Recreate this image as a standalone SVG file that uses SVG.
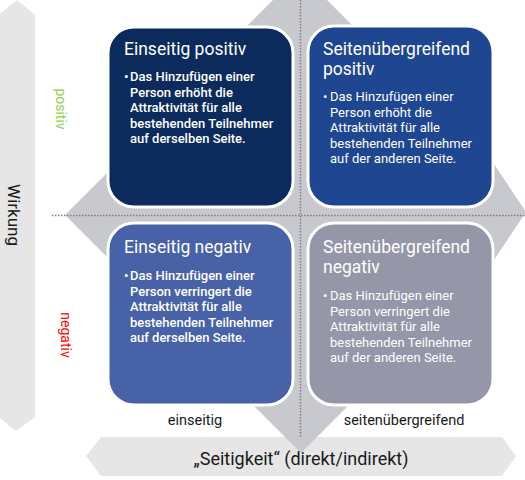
<svg xmlns="http://www.w3.org/2000/svg" width="525" height="480" viewBox="0 0 525 480">
<style>
.bar{fill:#e6e6e6}
.quad{fill:#c8c9ce}
.dot{stroke:#808080;stroke-width:1.5;stroke-dasharray:1.5 1.5;fill:none}
.box{stroke:#ffffff;stroke-width:3}
.title{font-family:Roboto,"Liberation Sans",sans-serif;font-size:17.5px;fill:#ffffff}
.body{font-family:Roboto,"Liberation Sans",sans-serif;font-size:13px;fill:#ffffff}
.b1{font-weight:500}
.lbl{font-family:Roboto,"Liberation Sans",sans-serif;font-size:14.5px;fill:#1a1a1a}
.axis{font-family:Roboto,"Liberation Sans",sans-serif;fill:#1a1a1a}
.side{font-family:Roboto,"Liberation Sans",sans-serif;font-size:14px}
</style>
<rect width="525" height="480" fill="#ffffff"/>
<g id="axis-wirkung">
<polygon class="bar" points="0,14 17,0 35,15 35,417 16,431 0,418"/>
<text class="axis" style="font-size:17px" transform="translate(8,215) rotate(90)" text-anchor="middle">Wirkung</text>
</g>
<g id="axis-seitigkeit">
<polygon class="bar" points="86,456 101,437 502,437 516,456 502,476 101,476"/>
<text class="axis" style="font-size:18px" x="301" y="465" text-anchor="middle">„Seitigkeit“ (direkt/indirekt)</text>
</g>
<g id="quad-arrow">
<polygon class="quad" points="300,-27 360,33 360,128 470,128 526,212 470,296 360,296 360,394 301,453 242,394 242,275 125,275 65,215 125,155 240,155 240,33"/>
</g>
<g id="connectors">
<line class="dot" x1="300.5" y1="0" x2="300.5" y2="437"/>
<line class="dot" x1="52" y1="215.5" x2="525" y2="215.5"/>
</g>
<g id="labels">
<text class="side" fill="#92d050" transform="translate(56,109) rotate(90)" text-anchor="middle">positiv</text>
<text class="side" fill="#ff0000" transform="translate(61,335) rotate(90)" text-anchor="middle">negativ</text>
<text class="lbl" x="195" y="425" text-anchor="middle">einseitig</text>
<text class="lbl" x="404" y="425" text-anchor="middle">seitenübergreifend</text>
</g>
<g id="box-einseitig-positiv">
<rect class="box" x="108" y="27" width="185" height="180" rx="26" fill="#0b2b5c"/>
<text class="title" x="124" y="55">Einseitig positiv</text>
<text class="body b1"><tspan x="124" y="81">•</tspan><tspan x="130" y="81">Das Hinzufügen einer</tspan><tspan x="130" y="96.5">Person erhöht die</tspan><tspan x="130" y="112">Attraktivität für alle</tspan><tspan x="130" y="127.5">bestehenden Teilnehmer</tspan><tspan x="130" y="143">auf derselben Seite.</tspan></text>
</g>
<g id="box-seitenuebergreifend-positiv">
<rect class="box" x="308" y="26" width="185" height="181" rx="26" fill="#1f4690"/>
<text class="title"><tspan x="323" y="55">Seitenübergreifend</tspan><tspan x="323" y="75">positiv</tspan></text>
<text class="body"><tspan x="323" y="101">•</tspan><tspan x="330" y="101">Das Hinzufügen einer</tspan><tspan x="330" y="116.5">Person erhöht die</tspan><tspan x="330" y="132">Attraktivität für alle</tspan><tspan x="330" y="147.5">bestehenden Teilnehmer</tspan><tspan x="330" y="163">auf der anderen Seite.</tspan></text>
</g>
<g id="box-einseitig-negativ">
<rect class="box" x="108" y="223" width="185" height="182" rx="26" fill="#4862a7"/>
<text class="title" x="124" y="253">Einseitig negativ</text>
<text class="body b1"><tspan x="124" y="280">•</tspan><tspan x="130" y="280">Das Hinzufügen einer</tspan><tspan x="130" y="295.5">Person verringert die</tspan><tspan x="130" y="311">Attraktivität für alle</tspan><tspan x="130" y="326.5">bestehenden Teilnehmer</tspan><tspan x="130" y="342">auf derselben Seite.</tspan></text>
</g>
<g id="box-seitenuebergreifend-negativ">
<rect class="box" x="308" y="223" width="185" height="182" rx="26" fill="#9596a7"/>
<text class="title"><tspan x="323" y="253">Seitenübergreifend</tspan><tspan x="323" y="273">negativ</tspan></text>
<text class="body"><tspan x="323" y="300">•</tspan><tspan x="330" y="300">Das Hinzufügen einer</tspan><tspan x="330" y="315.5">Person verringert die</tspan><tspan x="330" y="331">Attraktivität für alle</tspan><tspan x="330" y="346.5">bestehenden Teilnehmer</tspan><tspan x="330" y="362">auf der anderen Seite.</tspan></text>
</g>
</svg>
